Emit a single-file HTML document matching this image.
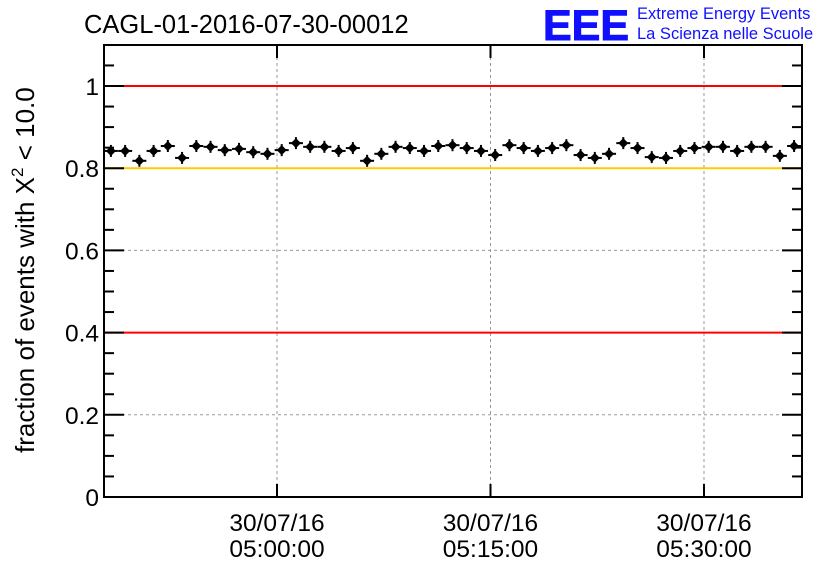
<!DOCTYPE html>
<html><head><meta charset="utf-8"><style>
body{margin:0;background:#fff;width:836px;height:572px;overflow:hidden;font-family:"Liberation Sans",sans-serif}
</style></head><body>
<svg id="chart" width="836" height="572" xmlns="http://www.w3.org/2000/svg" font-family="Liberation Sans, sans-serif">
<rect width="836" height="572" fill="#fff"/>
<g id="grid"></g>
<g id="refs"></g>
<g id="pts"></g>
<rect x="104" y="45" width="698" height="452" fill="none" stroke="#000" stroke-width="2"/>
<g id="axes"></g>
<text x="84" y="33" font-size="25.5">CAGL-01-2016-07-30-00012</text>
<text x="543" y="40" font-size="43" font-weight="bold" fill="#1010ff" stroke="#1010ff" stroke-width="1">EEE</text>
<text x="637" y="19" font-size="16.5" fill="#1010ff">Extreme Energy Events</text>
<text x="637" y="39" font-size="16.5" fill="#1010ff">La Scienza nelle Scuole</text>
<text transform="translate(34,453) rotate(-90)" font-size="26">fraction of events with X<tspan dy="-11" font-size="17">2</tspan><tspan dy="11"> &lt; 10.0</tspan></text>
</svg>
<script>
const values=[0.842,0.842,0.818,0.842,0.854,0.825,0.854,0.852,0.844,0.847,0.839,0.835,0.844,0.861,0.852,0.852,0.842,0.849,0.818,0.835,0.852,0.849,0.842,0.854,0.856,0.849,0.842,0.832,0.856,0.849,0.842,0.849,0.856,0.832,0.825,0.835,0.861,0.849,0.827,0.825,0.842,0.849,0.852,0.852,0.842,0.852,0.852,0.830,0.854];
const startMin=-11.67; // minutes relative to 05:00:00
const yTicks=[0,0.2,0.4,0.6,0.8,1];
const yTickLabels=["0","0.2","0.4","0.6","0.8","1"];
const xTicks=[0,15,30];
const xTickLabels=["05:00:00","05:15:00","05:30:00"];
const redLines=[1,0.4];
const yellowLines=[0.8];
const NS="http://www.w3.org/2000/svg";
const X=m=>277+m*14.233;
const Y=v=>497-v*411;
function mk(parent,tag,attrs){const e=document.createElementNS(NS,tag);for(const k in attrs)e.setAttribute(k,attrs[k]);document.getElementById(parent).appendChild(e);return e;}
yTicks.forEach((t,i)=>{
 if(t>0&&t<1&&t!==0.8&&t!==0.4){const g=mk('grid','line',{x1:104,x2:802,y1:Y(t),y2:Y(t),stroke:'#999','stroke-dasharray':'3,3'});
 
 }
 const l=mk('axes','text',{x:99,y:Y(t)+9,'text-anchor':'end','font-size':24.5});l.textContent=yTickLabels[i];
 
 
 const tk=mk('axes','line',{x1:104,x2:124,y1:Y(t),y2:Y(t),stroke:'#000','stroke-width':2});
 
 
 const tr=mk('axes','line',{x1:782,x2:802,y1:Y(t),y2:Y(t),stroke:'#000','stroke-width':2});
 
 
});
for(let v=0.05;v<1.2;v+=0.05){if(Math.abs(v*5-Math.round(v*5))<1e-6)continue;const y=Y(v);if(y<47)break;
 const mt=mk('axes','line',{x1:104,x2:114,y1:y,y2:y,stroke:'#000','stroke-width':2});
 
 
 const mr=mk('axes','line',{x1:792,x2:802,y1:y,y2:y,stroke:'#000','stroke-width':2});
 
 }
xTicks.forEach((t,i)=>{
 const g=mk('grid','line',{x1:X(t),x2:X(t),y1:45,y2:497,stroke:'#999','stroke-dasharray':'3,3'});
 
 
 const tk=mk('axes','line',{x1:X(t),x2:X(t),y1:497,y2:484,stroke:'#000','stroke-width':2});
 
 
 const tt=mk('axes','line',{x1:X(t),x2:X(t),y1:45,y2:58,stroke:'#000','stroke-width':2});
 
 
 const a=mk('axes','text',{x:X(t),y:531,'text-anchor':'middle','font-size':24.5});a.textContent="30/07/16";
 
 
 const b=mk('axes','text',{x:X(t),y:557,'text-anchor':'middle','font-size':24.5});b.textContent=xTickLabels[i];
 
 
});
redLines.forEach(v=>{const l=mk('refs','line',{x1:104,x2:802,y1:Y(v),y2:Y(v),stroke:'#ff0000','stroke-width':2});
 
 });
yellowLines.forEach(v=>{const l=mk('refs','line',{x1:104,x2:802,y1:Y(v),y2:Y(v),stroke:'#ffcc00','stroke-width':2});
 
 });
values.forEach((v,i)=>{
 const cx=X(startMin+i),cy=Y(v);
 const h=mk('pts','line',{x1:cx-7,x2:cx+7,y1:cy,y2:cy,stroke:'#000','stroke-width':2});
 
 
 const vv=mk('pts','line',{x1:cx,x2:cx,y1:cy-6,y2:cy+6,stroke:'#000','stroke-width':2});
 
 
 const d=mk('pts','polygon',{points:`${cx},${cy-5} ${cx+5},${cy} ${cx},${cy+5} ${cx-5},${cy}`,fill:'#000'});
 
 
});
</script>
</body></html>
